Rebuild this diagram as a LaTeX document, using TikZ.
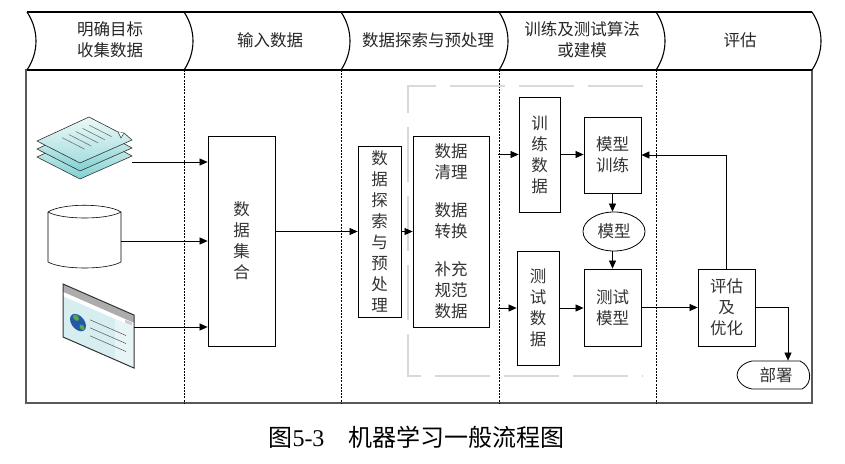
\documentclass[tikz,border=0pt]{standalone}
\usepackage{fontspec}
\setmainfont{Liberation Serif}
\newfontfamily\cjk{Noto Sans CJK SC}
\usetikzlibrary{arrows.meta}
\usetikzlibrary{shapes.geometric}
\usetikzlibrary{calc,positioning}

\definecolor{docLight}{RGB}{236,248,248}
\definecolor{docDark}{RGB}{128,208,210}
\definecolor{webBody}{RGB}{214,238,240}
\definecolor{webPale}{RGB}{232,245,246}
\definecolor{globeBlue}{RGB}{38,88,168}
\definecolor{globeGreen}{RGB}{88,170,70}

\tikzset{
  box/.style={draw, line width=0.8pt, inner sep=0pt, align=center,
    text=black!80, font=\cjk\fontsize{16.5}{21}\selectfont},
  hdrtext/.style={align=center, text=black!85, font=\cjk\fontsize{16.5}{21}\selectfont},
  flow/.style={->, line width=0.7pt},
  lane/.style={dash pattern=on 2pt off 1.2pt, line width=0.5pt},
  hdr/.style={line width=1.1pt},
}

\begin{document}
\begin{tikzpicture}[x=1pt, y=-1pt, >={Triangle[length=8pt,width=7pt]}]

    \useasboundingbox (0,0) rectangle (845,463);

    % swim lanes
    \draw[line width=1.2pt, black!65] (26,70) rectangle (812,403);
    \foreach \x in {184,341,499,656}
        \draw[lane] (\x,70) -- (\x,403);
    \draw[gray!30, line width=1.3pt, dash pattern=on 55pt off 14pt]
        (643,86) -- (408,86) -- (408,376) -- (643,376);

    % header
    \draw[hdr] (27,12) -- (812,12);
    \draw[hdr] (27,70) -- (812,70);
    \foreach \x in {27,184,341,499,656,812}
        \draw[hdr] (\x,12) .. controls (\x+12,30) and (\x+12,52) .. (\x,70);

    \node[hdrtext] (h1) at (110,40) {明确目标\\收集数据};
    \node[hdrtext] (h2) at (270,40) {输入数据};
    \node[hdrtext] (h3) at (428,40) {数据探索与预处理};
    \node[hdrtext] (h4) at (582,40) {训练及测试算法\\或建模};
    \node[hdrtext] (h5) at (740,40) {评估};

    % sources
    \foreach \d in {16,8}
        \draw[line width=0.6pt, black!80, top color=docLight, bottom color=docDark]
            (37,141+\d) -- (89,117+\d) -- (132,140+\d) -- (80,163+\d) -- cycle;
    \draw[line width=0.6pt, black!80, top color=docLight, bottom color=docDark!70]
        (37,141) -- (89,117) -- (118,132) -- (124,133) -- (132,140) -- (80,163) -- cycle;
    \draw[line width=0.5pt, black!80, fill=white] (118,132) -- (121,138) -- (124,133);
    \foreach \u in {0.32,0.45,0.58,0.71,0.84}
        \draw[black!55, line width=0.6pt]
            (37+52*\u+43*0.2, 141-24*\u+22*0.2) -- (37+52*\u+43*0.72, 141-24*\u+22*0.72);

    \draw[line width=0.6pt, fill=white] (48,212) -- (48,262)
        .. controls (62,270) and (107,270) .. (121,262) -- (121,212)
        .. controls (107,203) and (62,203) .. (48,212) -- cycle;
    \draw[line width=0.6pt] (48,212) .. controls (62,220) and (107,220) .. (121,212);

    \begin{scope}[shift={(63,284)}, yslant=-0.437]
        \fill[webBody] (0,12) rectangle (71,53);
        \fill[webPale] (52,12) rectangle (71,53);
        \fill[gray!65] (0,0) rectangle (71,8);
        \fill[white] (0,8) rectangle (71,12);
        \fill[gray!40] (62,8.5) rectangle (69,11.5);
        \fill[globeBlue] (15,32) circle (8);
        \fill[globeGreen] (13,28) circle (3);
        \fill[globeGreen] (19,35) circle (2.5);
        \foreach \t in {24,32,40}
            \draw[black!60, line width=0.6pt] (27,\t) -- (63,\t);
        \draw[line width=1pt, black!80] (0,0) rectangle (71,53);
    \end{scope}

    \coordinate (docs) at (132,162);
    \coordinate (db) at (121,241);
    \coordinate (web) at (134,327);

    % boxes
    \node[box, minimum width=67pt, minimum height=210pt] (pool) at (241.5,241) {数\\据\\集\\合};
    \node[box, minimum width=43pt, minimum height=171pt] (explore) at (379.5,231.5)
        {数\\据\\探\\索\\与\\预\\处\\理};
    \node[box, minimum width=76pt, minimum height=191pt] (prep) at (451,231.5)
        {数据\\清理\\[17pt]数据\\转换\\[17pt]补充\\规范\\数据};
    \node[box, minimum width=41pt, minimum height=115pt] (traindata) at (539.5,154.5) {训\\练\\数\\据};
    \node[box, minimum width=42pt, minimum height=114pt] (testdata) at (538,308) {测\\试\\数\\据};
    \node[box, minimum width=57pt, minimum height=76pt] (fit) at (612.5,155) {模型\\训练};
    \node[box, ellipse, minimum width=62pt, minimum height=39pt] (model) at (614,231.5) {模型};
    \node[box, minimum width=57pt, minimum height=77pt] (testm) at (612.5,307.5) {测试\\模型};
    \node[box, minimum width=57pt, minimum height=77pt] (evalbox) at (726.5,307.5) {评估\\及\\优化};
    \node[box, draw=none, minimum width=75pt, minimum height=28pt] (deploy) at (776,375) {部署};
    \draw[line width=0.8pt] (752,361) -- (800,361)
        .. controls (812,366) and (813,384) .. (802,389) -- (752,389)
        .. controls (741,387) and (737,379) .. (737,375)
        .. controls (737,370) and (742,363) .. (752,361) -- cycle;

    \coordinate (split-t) at (498,154.5);
    \coordinate (split-b) at (498,308);

    % connectors
    \draw[flow] (docs) -- (docs -| pool.west);
    \draw[flow] (db) -- (db -| pool.west);
    \draw[flow] (web) -- (web -| pool.west);
    \draw[flow] (pool.east |- explore.west) -- (explore.west);
    \draw[flow] (explore.east) -- (prep.west);
    \draw[flow] (split-t) -- (traindata.west);
    \draw[flow] (split-b) -- (testdata.west);
    \draw[flow] (traindata.east) -- (traindata.east -| fit.west);
    \draw[flow] (testdata.east) -- (testdata.east -| testm.west);
    \draw[flow] (fit.south) -- (fit.south |- model.north);
    \draw[flow] (model.south -| testm.north) -- (testm.north);
    \draw[flow] (testm.east) -- (evalbox.west);
    \draw[flow] (evalbox.north) |- (fit.east);
    \draw[flow] (evalbox.east) -| ([xshift=12pt]deploy.north);

    \node[font=\fontsize{24}{28}\selectfont] (caption) at (416.5,437)
        {{\cjk 图}5-3{\cjk 　机器学习一般流程图}};

\end{tikzpicture}
\end{document}
